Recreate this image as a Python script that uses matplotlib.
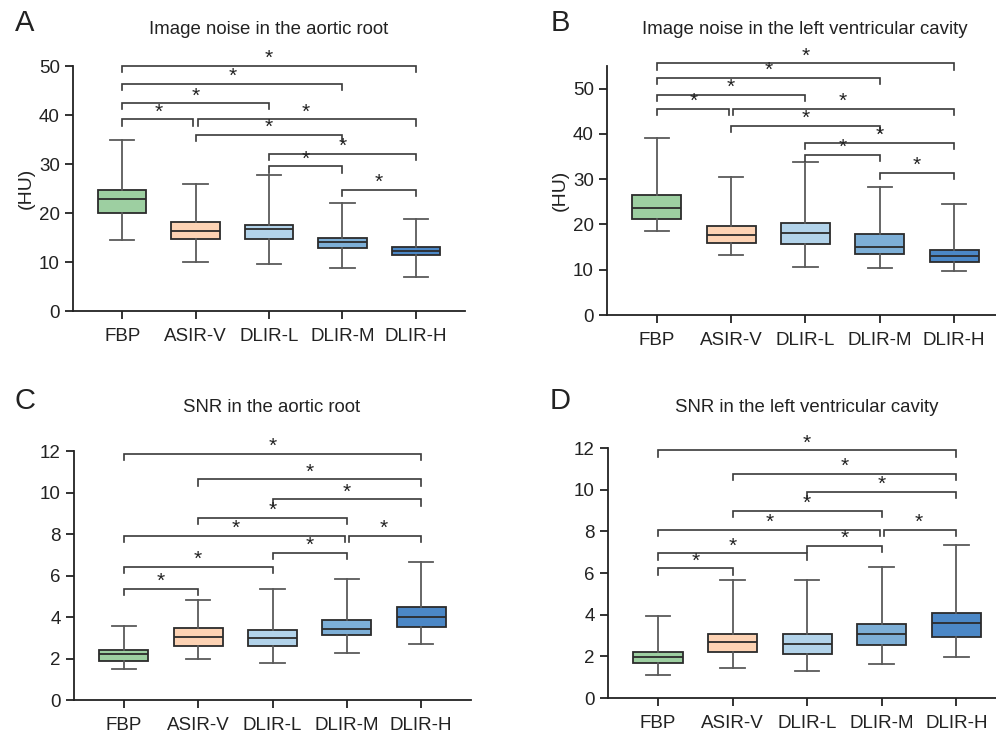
import matplotlib
matplotlib.use('Agg')
import matplotlib.pyplot as plt

plt.rcParams['font.family'] = ['Liberation Sans', 'DejaVu Sans']

groups = ['FBP', 'ASIR-V', 'DLIR-L', 'DLIR-M', 'DLIR-H']
colors = ['#9dcfa1', '#fdd3b4', '#b2d3ea', '#7dafd7', '#4b87c6']

# box stats: (whisker low, q1, median, q3, whisker high)
noise_aortic = [(14.4, 20.1, 22.8, 24.8, 34.9),
                (10.1, 14.8, 16.3, 18.1, 26.0),
                (9.5, 14.8, 16.7, 17.6, 27.8),
                (8.8, 12.9, 14.0, 15.0, 22.0),
                (6.9, 11.4, 12.3, 13.1, 18.8)]
noise_lv = [(18.5, 21.3, 23.6, 26.6, 39.0),
            (13.2, 16.0, 17.6, 19.6, 30.5),
            (10.5, 15.7, 18.1, 20.4, 33.7),
            (10.4, 13.5, 15.1, 17.9, 28.3),
            (9.7, 11.7, 13.1, 14.3, 24.6)]
snr_aortic = [(1.48, 1.88, 2.24, 2.41, 3.59),
              (1.96, 2.62, 3.02, 3.49, 4.83),
              (1.80, 2.59, 2.98, 3.39, 5.37),
              (2.28, 3.14, 3.43, 3.88, 5.84),
              (2.69, 3.52, 3.99, 4.47, 6.64)]
snr_lv = [(1.10, 1.68, 1.99, 2.20, 3.96),
          (1.44, 2.23, 2.70, 3.05, 5.65),
          (1.28, 2.11, 2.58, 3.06, 5.68),
          (1.63, 2.54, 3.05, 3.57, 6.29),
          (1.95, 2.92, 3.59, 4.10, 7.34)]

# significance brackets: (group i, group j, height)
br_noise_aortic = [(0, 4, 50.0), (0, 3, 46.3), (0, 2, 42.4), (0, 1, 39.1), (1, 4, 39.1),
                   (1, 3, 35.9), (2, 4, 32.1), (2, 3, 29.5), (3, 4, 24.8)]
br_noise_lv = [(0, 4, 55.6), (0, 3, 52.4), (0, 2, 48.6), (0, 1, 45.5), (1, 4, 45.5),
               (1, 3, 41.8), (2, 4, 38.0), (2, 3, 35.4), (3, 4, 31.4)]
br_snr_aortic = [(0, 4, 11.85), (1, 4, 10.63), (2, 4, 9.67), (1, 3, 8.77), (0, 3, 7.9),
                 (3, 4, 7.9), (2, 3, 7.09), (0, 2, 6.42), (0, 1, 5.36)]
br_snr_lv = [(0, 4, 11.89), (1, 4, 10.75), (2, 4, 9.88), (1, 3, 8.98), (0, 3, 8.06),
             (3, 4, 8.06), (2, 3, 7.32), (0, 2, 6.94), (0, 1, 6.22)]

fig = plt.figure(figsize=(9.96, 7.36), dpi=100)


def panel(rect, stats, brackets, ymax, yticks, ylabel=None):
    ax = fig.add_axes(rect)
    bstats = []
    for name, s in zip(groups, stats):
        bstats.append({'whislo': s[0], 'q1': s[1], 'med': s[2], 'q3': s[3],
                       'whishi': s[4], 'label': name, 'fliers': []})
    bp = ax.bxp(bstats, positions=range(5), widths=0.66, patch_artist=True,
                showfliers=False,
                boxprops=dict(edgecolor='#2b2b2b', linewidth=1.3),
                medianprops=dict(color='#2b2b2b', linewidth=1.3),
                whiskerprops=dict(color='#5a5a5a', linewidth=1.3),
                capprops=dict(color='#5a5a5a', linewidth=1.3))
    for patch, c in zip(bp['boxes'], colors):
        patch.set_facecolor(c)
    ax.set_xlim(-0.67, 4.67)
    ax.set_ylim(0, ymax)
    ax.set_yticks(yticks)
    ax.set_xticks(range(5))
    ax.set_xticklabels(groups)
    ax.spines['top'].set_visible(False)
    ax.spines['right'].set_visible(False)
    for sp in ['left', 'bottom']:
        ax.spines[sp].set_linewidth(1.3)
        ax.spines[sp].set_color('#222222')
    ax.tick_params(axis='both', labelsize=13.5, length=6, width=1.3,
                   color='#222222', labelcolor='#222222')
    ax.tick_params(axis='x', pad=6)
    if ylabel:
        ax.set_ylabel(ylabel, fontsize=14, color='#222222', labelpad=3)
    drop = 0.025 * ymax
    for i, j, h in brackets:
        xi, xj = float(i), float(j)
        # nudge brackets that meet at the same height
        for a, b, hh in brackets:
            if hh == h and (a, b) != (i, j):
                if b == i:
                    xi += 0.03
                if a == j:
                    xj -= 0.03
        ax.plot([xi, xi, xj, xj], [h - drop, h, h, h - drop], color='#3a3a3a',
                lw=1.2, clip_on=False, solid_joinstyle='miter')
        ax.annotate('*', xy=((i + j) / 2, h), xytext=(0, -1.5), textcoords='offset points',
                    ha='center', va='bottom', fontsize=15, color='#222222',
                    annotation_clip=False)
    return ax


panel([0.0733, 0.5774, 0.3936, 0.3329], noise_aortic, br_noise_aortic,
      50, [0, 10, 20, 30, 40, 50], '(HU)')
panel([0.6094, 0.5720, 0.3986, 0.3383], noise_lv, br_noise_lv,
      55, [0, 10, 20, 30, 40, 50], '(HU)')
panel([0.0743, 0.0489, 0.3986, 0.3383], snr_aortic, br_snr_aortic,
      12, [0, 2, 4, 6, 8, 10, 12])
panel([0.6104, 0.0516, 0.4000, 0.3397], snr_lv, br_snr_lv,
      12, [0, 2, 4, 6, 8, 10, 12])

# titles and panel letters (pixel-based placement)
W, H = 996, 736
titles = [('Image noise in the aortic root', 269, 29),
          ('Image noise in the left ventricular cavity', 805, 29),
          ('SNR in the aortic root', 272, 407),
          ('SNR in the left ventricular cavity', 807, 407)]
for t, x, y in titles:
    fig.text(x / W, 1 - y / H, t, ha='center', va='center', fontsize=13.4, color='#222222')
letters = [('A', 25, 23), ('B', 560, 23), ('C', 25, 401), ('D', 560, 401)]
for t, x, y in letters:
    fig.text(x / W, 1 - y / H, t, ha='center', va='center', fontsize=21, color='#222222')

fig.savefig('out.png', dpi=100)
